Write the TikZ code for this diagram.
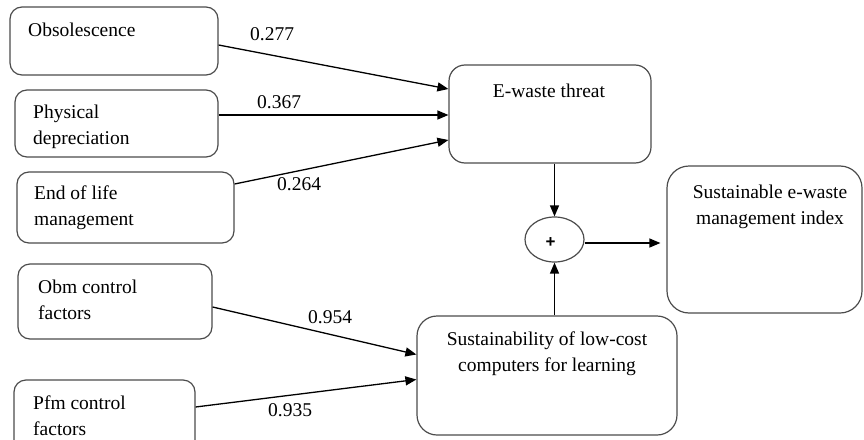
\documentclass[tikz,border=0pt]{standalone}
\usepackage{fontspec}
\setmainfont{Liberation Serif}
\newfontfamily\plusfont{Liberation Sans}
\usetikzlibrary{arrows.meta,shapes.geometric}
\begin{document}
\begin{tikzpicture}[x=1pt,y=-1pt,
  box/.style={draw=black!70,line width=1.2pt,rounded corners=#1,inner sep=0pt},
  box/.default=12pt,
  txt/.style={inner sep=0pt,font=\fontsize{19.5}{26}\selectfont},
  num/.style={inner sep=0pt,anchor=base west,font=\fontsize{19.5}{26}\selectfont},
  arr/.style={line width=1.3pt,-{Triangle[length=11pt,width=9pt]}}]
\useasboundingbox (0,0) rectangle (864,439);
\clip (0,0) rectangle (864,439);
% boxes
\node[box,minimum width=208pt,minimum height=68pt] (obs) at (114,41) {};
\node[box,minimum width=203pt,minimum height=67pt] (phy) at (116.5,123.5) {};
\node[box,minimum width=217pt,minimum height=71pt] (eol) at (125.5,207.5) {};
\node[box,minimum width=194pt,minimum height=75pt] (obm) at (115,301.5) {};
\node[box,minimum width=181pt,minimum height=80pt] (pfm) at (104.5,420) {};
\node[box=16pt,minimum width=202pt,minimum height=98pt] (ewt) at (550,114) {};
\node[box=20pt,minimum width=260pt,minimum height=119pt] (sus) at (547,375.5) {};
\node[box=22pt,minimum width=195pt,minimum height=147pt] (idx) at (764.5,239.5) {};
\node[draw=black!70,line width=1.2pt,ellipse,minimum width=59pt,minimum height=45pt,inner sep=0pt] (plus) at (554.5,239.5) {};
% texts
\node[txt,anchor=base west] (tobs) at (28,36) {Obsolescence};
\node[txt,anchor=base west] (tphy) at (33,118) {\begin{tabular}[t]{@{}l@{}}Physical\\depreciation\end{tabular}};
\node[txt,anchor=base west] (teol) at (34,199) {\begin{tabular}[t]{@{}l@{}}End of life\\management\end{tabular}};
\node[txt,anchor=base west] (tobm) at (38,293) {\begin{tabular}[t]{@{}l@{}}Obm control\\factors\end{tabular}};
\node[txt,anchor=base west] (tpfm) at (33,409) {\begin{tabular}[t]{@{}l@{}}Pfm control\\factors\end{tabular}};
\node[txt,anchor=base] (tewt) at (549,97) {E-waste threat};
\node[txt,anchor=base] (tidx) at (770,198) {\begin{tabular}[t]{@{}c@{}}Sustainable e-waste\\management index\end{tabular}};
\node[txt,anchor=base] (tsus) at (547,345) {\begin{tabular}[t]{@{}c@{}}Sustainability of low-cost\\computers for learning\end{tabular}};
\node[inner sep=0pt,font=\plusfont\bfseries\fontsize{17}{17}\selectfont] (tplus) at (550.5,243) {+};
% numbers
\node[num] (n1) at (250,40) {0.277};
\node[num] (n2) at (257,108) {0.367};
\node[num] (n3) at (277,190) {0.264};
\node[num] (n4) at (308,323) {0.954};
\node[num] (n5) at (268,416) {0.935};
% arrows
\draw[arr] ([yshift=-4pt]obs.east) -- ([yshift=25pt]ewt.west);
\draw[arr] ([yshift=8.5pt]phy.east) -- ([yshift=-1pt]ewt.west);
\draw[arr] ([yshift=23.5pt]eol.east) -- ([yshift=-26pt]ewt.west);
\draw[arr] ([yshift=-5.5pt]obm.east) -- ([yshift=21pt]sus.west);
\draw[arr] ([yshift=13pt]pfm.east) -- ([yshift=-4pt]sus.west);
\draw[arr] (plus.north |- ewt.south) -- (plus.north);
\draw[arr] (plus.south |- sus.north) -- (plus.south);
\draw[arr] ([yshift=-3.5pt]plus.east) -- ([xshift=-6pt,yshift=-3.5pt]idx.west);
\end{tikzpicture}
\end{document}
